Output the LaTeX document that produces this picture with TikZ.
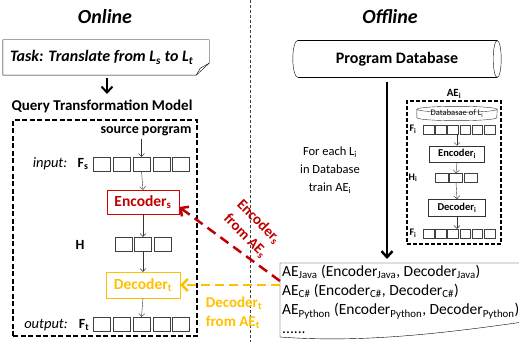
\documentclass[tikz,border=0pt]{standalone}
\usepackage{fontspec}
\setmainfont{Carlito}
\usetikzlibrary{arrows.meta}
\definecolor{encred}{HTML}{C00000}
\definecolor{decgold}{HTML}{FFC000}

\begin{document}
\begin{tikzpicture}[x=1pt,y=-1pt,
  title/.style={font=\fontsize{20}{24}\selectfont\bfseries\itshape},
  lab/.style={font=\fontsize{14}{16}\selectfont\bfseries},
  smalllab/.style={font=\fontsize{10}{12}\selectfont\bfseries},
  cell/.style={draw=black!75,minimum width=17pt,minimum height=14pt,inner sep=0pt},
  tinycell/.style={draw=black!75,minimum width=10.5pt,minimum height=9pt,inner sep=0pt},
  thinarrow/.style={-{Straight Barb[length=3pt,width=6pt]},draw=black!80},
  bigarrow/.style={-{Straight Barb[length=6pt,width=11pt]},line width=2pt},
  coder/.style={draw,minimum width=72pt,minimum height=24pt,inner sep=0pt,
    font=\fontsize{15.5}{18}\selectfont\bfseries},
  smallcoder/.style={draw=black!80,line width=0.8pt,minimum width=55pt,minimum height=16pt,
    inner sep=0pt,font=\fontsize{10.5}{12}\selectfont\bfseries}
]
\useasboundingbox (0,0) rectangle (519,342);

\coordinate (divtop) at (250,0);
\coordinate (divbot) at (250,342);
\draw[black!75,dash pattern=on 3pt off 2pt] (divtop) -- (divbot);

\node[title] (online) at (105,17) {Online};
\node[title] (offline) at (390,17) {Offline};

% online side
\node[minimum width=206pt,minimum height=35pt,inner sep=0pt] (task) at (106,57.5) {};
\node[anchor=west,inner sep=0pt,font=\fontsize{16}{18}\selectfont\bfseries\itshape] (tasktext)
  at ([xshift=7pt]task.west) {Task: Translate from L\textsubscript{s} to L\textsubscript{t}};
\draw (task.north west) -- (task.north east) -- ([yshift=12pt]task.south east)
  -- ([xshift=-13pt]task.south east) -- (task.south west) -- cycle;
\draw ([yshift=12pt]task.south east) -- ([xshift=-9pt,yshift=7pt]task.south east)
  -- ([xshift=-13pt]task.south east);
\node[font=\fontsize{15}{18}\selectfont\bfseries] (qtm) at (102,106) {Query Transformation Model};
\draw[bigarrow] ([xshift=1pt,yshift=-3pt]task.south) -- ([xshift=5pt,yshift=2pt]qtm.north);

\node[draw,line width=1.8pt,dash pattern=on 5pt off 2.5pt,minimum width=184pt,
  minimum height=216pt] (qbox) at (105,228) {};
\node[font=\fontsize{14}{16}\selectfont\bfseries] (src) at (146,131) {source porgram};

\node[font=\fontsize{14.5}{16}\selectfont\itshape] (inlab) at (50,164) {input:};
\node[lab] (fs) at (83,164) {F\textsubscript{s}};
\foreach \i in {1,...,5}
  \node[cell] (in\i) at ({82.25+19.75*\i},164) {};

\node[coder,draw=red!85!black,text=encred] (encs) at (143,202) {Encoder\textsubscript{s}};

\node[lab] (h) at (80,245) {H};
\foreach \i in {1,2,3}
  \node[cell] (hid\i) at ({104.5+19.25*\i},244) {};

\node[coder,draw=decgold,text=decgold,minimum width=74pt,minimum height=26pt] (dect) at (143,285) {Decoder\textsubscript{t}};

\node[font=\fontsize{14.5}{16}\selectfont\itshape] (outlab) at (46,325) {output:};
\node[lab] (ft) at (84,325) {F\textsubscript{t}};
\foreach \i in {1,...,5}
  \node[cell] (out\i) at ({82.25+19.75*\i},324) {};

\draw[thinarrow] (in3 |- src.south) -- (in3.north);
\draw[thinarrow] (in3.south) -- (encs.north);
\draw[thinarrow] (encs.south) -- (hid2.north);
\draw[thinarrow] (hid2.south) -- (dect.north);
\draw[thinarrow] (dect.south) -- (out3.north);

% offline side
\node[minimum width=208pt,minimum height=37pt,inner sep=0pt,
  font=\fontsize{16}{18}\selectfont\bfseries] (pdb) at (397,59) {Program Database};
\draw ([xshift=5pt]pdb.north west) -- ([xshift=-4pt]pdb.north east);
\draw ([xshift=5pt]pdb.south west) -- ([xshift=-4pt]pdb.south east);
\draw ([xshift=-4pt]pdb.east) ellipse[x radius=4pt,y radius=18.5pt];
\draw ([xshift=5pt]pdb.north west) arc[start angle=90,end angle=270,x radius=5pt,y radius=18.5pt];

\node[align=center,font=\fontsize{12.5}{18}\selectfont] (foreach) at (330,170)
  {For each L\textsubscript{i}\\in Database\\train AE\textsubscript{i}};

\node[font=\fontsize{11}{13}\selectfont\bfseries] (aei) at (454,94) {AE\textsubscript{i}};
\node[draw,line width=1.3pt,dash pattern=on 4pt off 2pt,minimum width=94pt,
  minimum height=143pt] (aebox) at (454,172.5) {};
\node[minimum width=80pt,minimum height=14pt,inner sep=0pt,
  font=\fontsize{8.5}{10}\selectfont] (dbli) at (457,113.5) {Databasae of L\textsubscript{i}};
\draw[black!80] ([yshift=-3pt]dbli.north) ellipse[x radius=40pt,y radius=3pt];
\draw[black!80] ([yshift=-3pt]dbli.north west) -- ([yshift=3pt]dbli.south west)
  arc[start angle=180,end angle=360,x radius=40pt,y radius=3pt] -- ([yshift=-3pt]dbli.north east);

\node[smalllab] (fitop) at (413,129.5) {F\textsubscript{i}};
\foreach \i in {1,...,6}
  \node[tinycell] (fa\i) at ({416.3+12.2*\i},129.5) {};
\node[smallcoder] (enci) at (457,154) {Encoder\textsubscript{i}};
\node[smalllab] (hi) at (413,178) {H\textsubscript{i}};
\foreach \i in {1,2,3}
  \node[tinycell,minimum width=13pt] (hb\i) at ({427+14.5*\i},178) {};
\node[smallcoder,minimum width=57pt,minimum height=17pt] (deci) at (457,208) {Decoder\textsubscript{i}};
\node[smalllab] (fibot) at (413,233.5) {F\textsubscript{i}};
\foreach \i in {1,...,6}
  \node[tinycell] (fb\i) at ({416.3+12.2*\i},233.5) {};

\draw[thinarrow] (enci.north |- fa1.south) -- (enci.north);
\draw[thinarrow] (enci.south) -- (hb2.north);
\draw[thinarrow] (hb2.south) -- (deci.north);
\draw[thinarrow] (deci.south) -- (deci.south |- fb1.north);

\node[anchor=north west,align=left,inner sep=2pt,font=\fontsize{15.5}{19}\selectfont] (aelist) at (280,263)
  {AE\textsubscript{Java} (Encoder\textsubscript{Java}, Decoder\textsubscript{Java})\\
   AE\textsubscript{C\#} (Encoder\textsubscript{C\#}, Decoder\textsubscript{C\#})\\
   AE\textsubscript{Python} (Encoder\textsubscript{Python}, Decoder\textsubscript{Python})\\
   ......};
\draw (aelist.north west) -- ++(250,0) -- ++(0,58) .. controls (440,334) and (360,343) .. (280,337) -- cycle;

\draw[bigarrow,line width=2.5pt] ([xshift=-10pt,yshift=-4pt]pdb.south) -- ([xshift=-10pt,yshift=4pt]pdb.south |- aelist.north);

% transfer
\draw[encred,line width=2.5pt,dash pattern=on 10pt off 6pt,-{Straight Barb[length=6pt,width=12pt]}]
  ([yshift=-18pt]aelist.north west) -- ([yshift=-5pt]encs.east);
\draw[decgold,line width=2.5pt,dash pattern=on 9pt off 5pt,-{Straight Barb[length=6pt,width=12pt]}]
  ([yshift=-22pt]aelist.north west) -- (dect.east);
\node[rotate=-45,align=center,text=encred,font=\fontsize{15}{19}\selectfont\bfseries] (enclab) at (252,229)
  {Encoder\textsubscript{s}\\from AE\textsubscript{s}};
\node[align=left,text=decgold,font=\fontsize{15}{19}\selectfont\bfseries] (declab) at (234,313)
  {Decoder\textsubscript{t}\\from AE\textsubscript{t}};
\end{tikzpicture}
\end{document}
